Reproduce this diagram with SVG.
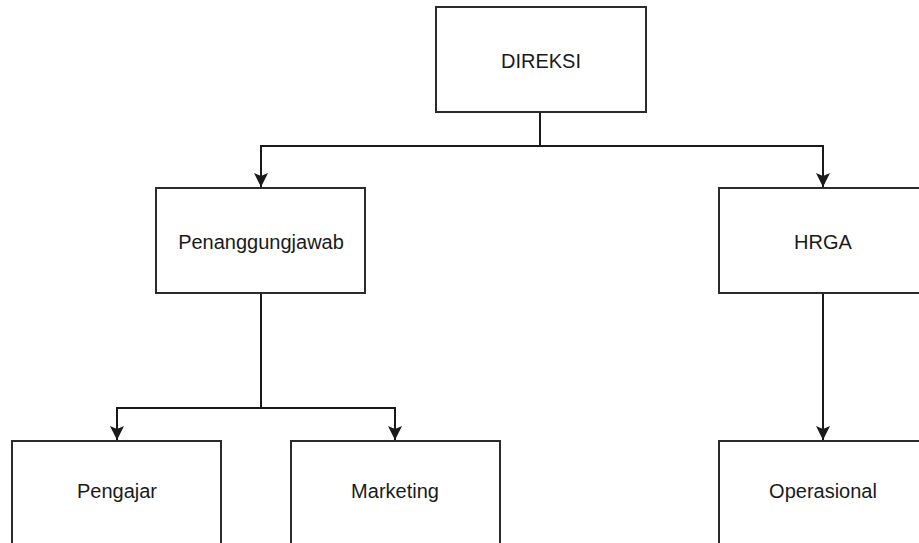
<svg xmlns="http://www.w3.org/2000/svg" width="919" height="543" viewBox="0 0 919 543">
<style>
.box{fill:#ffffff;stroke:#2b2b2b;stroke-width:2}
.lbl{font-family:"Liberation Sans",Arial,sans-serif;font-size:20px;fill:#1a1a1a;text-anchor:middle;dominant-baseline:central}
.edge{fill:none;stroke:#1a1a1a;stroke-width:2}
</style>
<defs>
<marker id="arr" markerUnits="userSpaceOnUse" viewBox="0 0 14 14" refX="14" refY="7" markerWidth="14" markerHeight="14" orient="auto">
<path d="M0,0 L14,7 L0,14 L3,7 Z" fill="#1a1a1a"/>
</marker>
</defs>
<rect width="919" height="543" fill="#ffffff"/>
<g id="connectors">
<path class="edge" d="M540,112 V146"/>
<path class="edge" d="M540,146 H261 V187" marker-end="url(#arr)"/>
<path class="edge" d="M540,146 H823 V187" marker-end="url(#arr)"/>
<path class="edge" d="M261,293 V408"/>
<path class="edge" d="M261,408 H117 V440" marker-end="url(#arr)"/>
<path class="edge" d="M261,408 H395 V440" marker-end="url(#arr)"/>
<path class="edge" d="M823,293 V440" marker-end="url(#arr)"/>
</g>
<g id="direksi"><rect class="box" x="436" y="7" width="210" height="105"/><text class="lbl" x="541" y="61">DIREKSI</text></g>
<g id="penanggungjawab"><rect class="box" x="156" y="188" width="209" height="105"/><text class="lbl" x="261" y="242">Penanggungjawab</text></g>
<g id="hrga"><rect class="box" x="719" y="188" width="209" height="105"/><text class="lbl" x="823" y="242">HRGA</text></g>
<g id="pengajar"><rect class="box" x="12" y="441" width="209" height="110"/><text class="lbl" x="117" y="491">Pengajar</text></g>
<g id="marketing"><rect class="box" x="291" y="441" width="209" height="110"/><text class="lbl" x="395" y="491">Marketing</text></g>
<g id="operasional"><rect class="box" x="719" y="441" width="209" height="110"/><text class="lbl" x="823" y="491">Operasional</text></g>
</svg>
